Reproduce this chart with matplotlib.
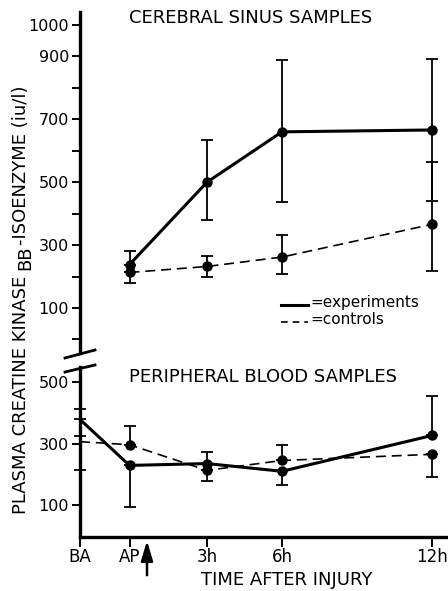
import matplotlib
matplotlib.use('Agg')
import matplotlib.pyplot as plt
from matplotlib.lines import Line2D
from matplotlib.patches import FancyArrowPatch

plt.rcParams['font.family'] = ['DejaVu Sans']

# time points (hours after injury; BA/AP placed before injury)
time_labels = ['BA', 'AP', '3h', '6h', '12h']
time_x = [-2.08, -0.1, 3, 6, 12]
injury_x = 0.6

# cerebral sinus samples (AP, 3h, 6h, 12h)
sinus_exp = [238, 500, 660, 666]
sinus_exp_lo = [238, 379, 436, 440]
sinus_exp_hi = [280, 634, 889, 892]
sinus_ctl = [213, 232, 262, 366]
sinus_ctl_lo = [181, 200, 207, 217]
sinus_ctl_hi = [213, 265, 332, 564]

# peripheral blood samples (BA, AP, 3h, 6h, 12h)
blood_exp = [378, 229, 235, 210, 326]
blood_exp_lo = [378, 94, 235, 165, 326]
blood_exp_hi = [413, 229, 271, 210, 455]
blood_ctl = [306, 296, 213, 245, 265]
blood_ctl_lo = [213, 296, 177, 245, 190]
blood_ctl_hi = [323, 358, 213, 294, 265]

W, H = 448, 591
fig = plt.figure(figsize=(W / 100, H / 100), dpi=100)


def fx(px):
    return px / W


def fy(py):
    return 1 - py / H


ax_top = fig.add_axes([fx(80), fy(353), (448 - 80) / W, (353 - 12) / H])
ax_bot = fig.add_axes([fx(80), fy(537), (448 - 80) / W, (537 - 367) / H])


def draw(ax, x, exp, exp_lo, exp_hi, ctl, ctl_lo, ctl_hi, marks):
    for y, lo, hi in [(exp, exp_lo, exp_hi), (ctl, ctl_lo, ctl_hi)]:
        err = [[v - l for v, l in zip(y, lo)], [h - v for v, h in zip(y, hi)]]
        ax.errorbar(x, y, yerr=err, fmt='none', ecolor='black',
                    elinewidth=1.3, capsize=4.5, capthick=1.3, clip_on=False)
    ax.plot(x, ctl, color='black', lw=1.2, ls=(0, (6, 3.5)), marker='o',
            ms=6.5, markevery=marks, clip_on=False, zorder=3)
    ax.plot(x, exp, color='black', lw=2.2, marker='o', ms=6.5,
            markevery=marks, clip_on=False, zorder=4)


draw(ax_top, time_x[1:], sinus_exp, sinus_exp_lo, sinus_exp_hi,
     sinus_ctl, sinus_ctl_lo, sinus_ctl_hi, None)
# no dots drawn at BA in the blood panel
draw(ax_bot, time_x, blood_exp, blood_exp_lo, blood_exp_hi,
     blood_ctl, blood_ctl_lo, blood_ctl_hi, [1, 2, 3, 4])

for ax in (ax_top, ax_bot):
    ax.set_xlim(-2.08, 12.64)
    ax.set_facecolor('none')
    for s in ['top', 'right']:
        ax.spines[s].set_visible(False)
    ax.spines['left'].set_linewidth(2.4)
    ax.spines['bottom'].set_linewidth(2.4)
    ax.tick_params(axis='y', direction='out', length=6, width=1.4,
                   labelsize=11.5, pad=2)

# top panel
ax_top.set_ylim(-43, 1041)
ax_top.spines['bottom'].set_visible(False)
ax_top.set_xticks([])
top_ticks = list(range(0, 1001, 100))
ax_top.set_yticks(top_ticks)
ax_top.set_yticklabels([str(v) if v in (100, 300, 500, 700, 900, 1000) else ''
                        for v in top_ticks])

# bottom panel
ax_bot.set_ylim(-3, 548)
ax_bot.set_yticks([100, 300, 500])
ax_bot.set_xticks(time_x)
ax_bot.set_xticklabels(time_labels)
ax_bot.tick_params(axis='x', direction='out', length=7, width=1.4,
                   labelsize=12, pad=1)

# axis break marks
for y0, y1 in [(358, 350), (372, 365)]:
    fig.add_artist(Line2D([fx(65), fx(95)], [fy(y0), fy(y1)], color='black', lw=2))

# injury arrow
arrow_px = 80 + (injury_x + 2.08) / (12.64 + 2.08) * (448 - 80)
fig.add_artist(FancyArrowPatch((fx(arrow_px), fy(578)), (fx(arrow_px), fy(538)),
                               transform=fig.transFigure,
                               arrowstyle='-|>,head_length=0.6,head_width=0.18',
                               mutation_scale=20, lw=1.8, color='black'))

# legend
fig.add_artist(Line2D([fx(281), fx(308)], [fy(305), fy(305)], color='black', lw=2.2))
fig.add_artist(Line2D([fx(281), fx(308)], [fy(322), fy(322)], color='black', lw=1.2,
                      ls=(0, (4, 3))))
fig.text(fx(310), fy(303), '=experiments', ha='left', va='center', fontsize=11)
fig.text(fx(310), fy(320), '=controls', ha='left', va='center', fontsize=11)

# titles and labels
fig.text(fx(251), fy(18), 'CEREBRAL SINUS SAMPLES', ha='center', va='center', fontsize=13)
fig.text(fx(263), fy(377), 'PERIPHERAL BLOOD SAMPLES', ha='center', va='center', fontsize=13)
fig.text(fx(287), fy(580), 'TIME AFTER INJURY', ha='center', va='center', fontsize=13)

# y label in pieces, with "BB" set lower like the original lettering
renderer = fig.canvas.get_renderer()
ypos = fy(514)
for piece, xpx in [('PLASMA CREATINE KINASE', 21), ('BB', 25), ('-ISOENZYME (iu/l)', 21)]:
    t = fig.text(fx(xpx), ypos, piece, rotation=90, ha='center', va='bottom',
                 fontsize=13)
    bb = t.get_window_extent(renderer)
    ypos = fig.transFigure.inverted().transform((0, bb.y1))[1]
    if piece.startswith('PLASMA'):
        ypos += 6 / H

fig.savefig('out.png', dpi=100)
